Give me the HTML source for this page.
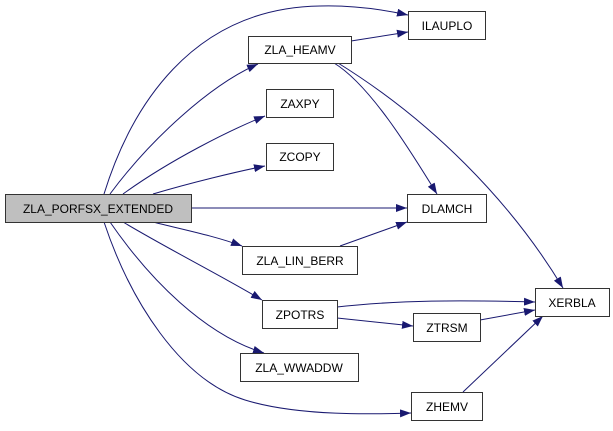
<!DOCTYPE html>
<html><head><meta charset="utf-8"><style>
body{margin:0;background:#fff;width:613px;height:426px;overflow:hidden}
text{font-family:"Liberation Sans",sans-serif;font-size:12px;text-anchor:middle}
rect{fill:#fff;stroke:#333;stroke-width:1}
path{fill:none;stroke:#191970;stroke-width:1;marker-end:url(#a)}
</style></head><body>
<svg width="613" height="426" xmlns="http://www.w3.org/2000/svg">
<defs><marker id="a" markerWidth="11" markerHeight="8" refX="11" refY="4" orient="auto" markerUnits="userSpaceOnUse"><polygon points="0,0 11,4 0,8" fill="#191970"/></marker></defs>
<!-- edges -->
<path d="M104,194 C130,110 190,8 320,6 C355,5 385,10 408,15"/>
<path d="M110,194 C150,140 210,85 258,64"/>
<path d="M123,194 C170,160 230,130 265,116"/>
<path d="M153,194 C190,183 235,172 265,166"/>
<path d="M191,208 L407,208"/>
<path d="M153,222 C185,230 215,236 242,246"/>
<path d="M123,222 C170,250 220,275 262,300"/>
<path d="M110,222 C150,280 205,335 264,353"/>
<path d="M104,222 C130,300 180,380 245,400 C300,417 380,414 411,413"/>
<path d="M351,41 L408,32"/>
<path d="M334,63 C370,85 410,150 437,194"/>
<path d="M338,63 C430,120 510,200 563,288"/>
<path d="M340,246 L407,222"/>
<path d="M337,307 C400,300 460,300 535,302"/>
<path d="M337,318 L413,326"/>
<path d="M480,320 L535,310"/>
<path d="M463,392 L543,316"/>
<!-- nodes -->
<rect x="5.5" y="194.5" width="186" height="28" style="fill:#bfbfbf"/><text x="98" y="213">ZLA_PORFSX_EXTENDED</text>
<rect x="408.5" y="11.5" width="77" height="28"/><text x="447" y="30">ILAUPLO</text>
<rect x="248.5" y="36.5" width="103" height="27"/><text x="300" y="54">ZLA_HEAMV</text>
<rect x="266.5" y="89.5" width="67" height="28"/><text x="300" y="108">ZAXPY</text>
<rect x="266.5" y="143.5" width="67" height="27"/><text x="300" y="161">ZCOPY</text>
<rect x="407.5" y="194.5" width="79" height="28"/><text x="447" y="213">DLAMCH</text>
<rect x="242.5" y="246.5" width="115" height="28"/><text x="300" y="265">ZLA_LIN_BERR</text>
<rect x="262.5" y="300.5" width="75" height="28"/><text x="300" y="319">ZPOTRS</text>
<rect x="413.5" y="313.5" width="67" height="28"/><text x="447" y="332">ZTRSM</text>
<rect x="535.5" y="288.5" width="74" height="28"/><text x="572" y="307">XERBLA</text>
<rect x="240.5" y="353.5" width="118" height="28"/><text x="299" y="372">ZLA_WWADDW</text>
<rect x="411.5" y="392.5" width="71" height="28"/><text x="447" y="411">ZHEMV</text>
</svg>
</body></html>
